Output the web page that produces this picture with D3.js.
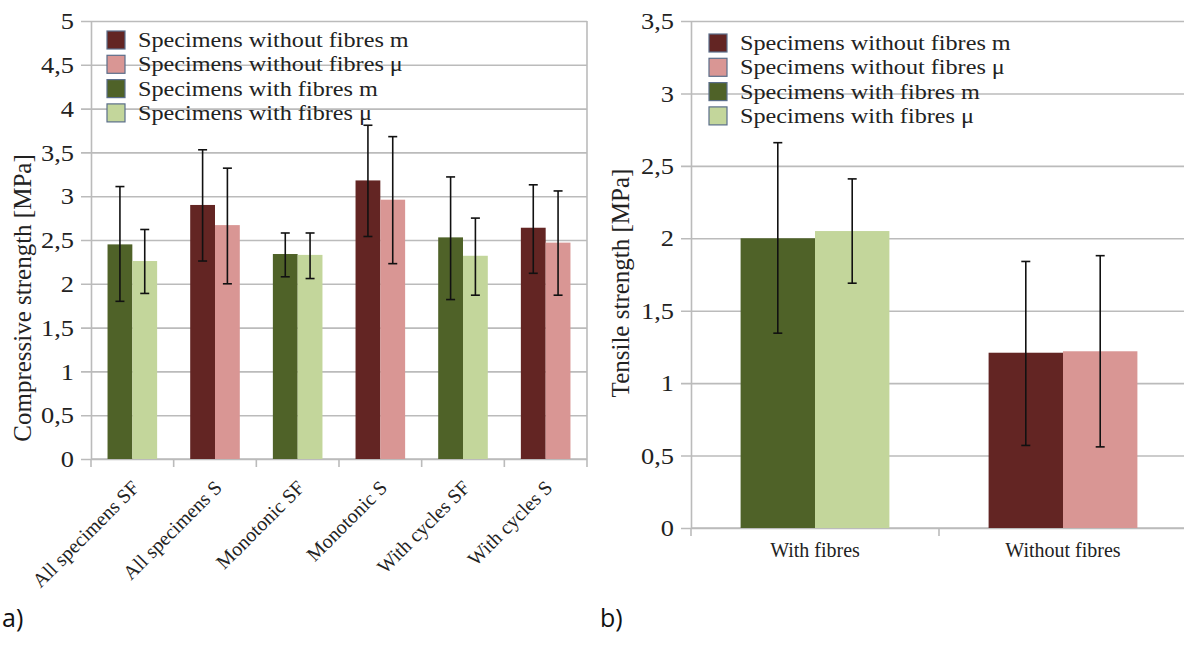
<!DOCTYPE html>
<html>
<head>
<meta charset="utf-8">
<script src="https://cdn.jsdelivr.net/npm/d3@7"></script>
<style>
  body { margin: 0; background: #fff; }
  svg { display: block; }
  svg text { font-family: "Liberation Serif", serif; }
  svg text.tag { font-family: "Open Sans", sans-serif; }
</style>
</head>
<body>
<div id="chart"></div>
<script>
// Panel a) compressive strength
const categoriesA = ["All specimens SF", "All specimens S", "Monotonic SF", "Monotonic S", "With cycles SF", "With cycles S"];
const fibresA = [true, false, true, false, true, false];
const mA = [2.45, 2.90, 2.34, 3.18, 2.53, 2.64];
const muA = [2.26, 2.67, 2.33, 2.96, 2.32, 2.47];
const mHighA = [3.11, 3.53, 2.58, 3.81, 3.22, 3.13];
const mLowA = [1.80, 2.26, 2.08, 2.54, 1.82, 2.12];
const muHighA = [2.62, 3.32, 2.58, 3.68, 2.75, 3.06];
const muLowA = [1.89, 2.00, 2.06, 2.23, 1.87, 1.87];
const ticksA = [0, 0.5, 1, 1.5, 2, 2.5, 3, 3.5, 4, 4.5, 5];

// Panel b) tensile strength
const categoriesB = ["With fibres", "Without fibres"];
const fibresB = [true, false];
const mB = [2.00, 1.21];
const muB = [2.05, 1.22];
const mHighB = [2.66, 1.84];
const mLowB = [1.345, 0.57];
const muHighB = [2.41, 1.88];
const muLowB = [1.69, 0.56];
const ticksB = [0, 0.5, 1, 1.5, 2, 2.5, 3, 3.5];

const legendLabels = ["Specimens without fibres m", "Specimens without fibres μ", "Specimens with fibres m", "Specimens with fibres μ"];
const legendColors = ["#632523", "#d99694", "#4f6228", "#c3d69b"];

const width = 1184, height = 646;
const serif = "Liberation Serif";
const gridColor = "#bbbbbb";

const svg = d3.select("#chart").append("svg")
    .attr("width", width)
    .attr("height", height);

function panel(opt) {
    const g = svg.append("g");

    const x = d3.scaleBand()
        .domain(opt.categories)
        .range([opt.left, opt.right]);

    const xSub = d3.scaleBand()
        .domain(["m", "mu"])
        .range([x.bandwidth() * 0.2, x.bandwidth() * 0.8]);

    const y = d3.scaleLinear()
        .domain([0, opt.max])
        .range([opt.bottom, opt.top]);

    // grid lines + y ticks
    const yAxis = g.append("g")
        .attr("transform", `translate(${opt.left},0)`)
        .call(d3.axisLeft(y)
            .tickValues(opt.ticks)
            .tickSizeInner(-(opt.gridRight - opt.left))
            .tickSizeOuter(0)
            .tickPadding(17)
            .tickFormat(d => String(d).replace(".", ",")))
        .attr("font-family", serif)
        .attr("font-size", 24);
    yAxis.select(".domain").attr("stroke", gridColor).attr("stroke-width", 1.6);
    yAxis.selectAll(".tick line")
        .attr("x1", -10)
        .attr("stroke", gridColor)
        .attr("stroke-width", 1.6);
    yAxis.selectAll(".tick text")
        .attr("fill", "#222")
        .attr("transform", "scale(1.1,1)")
        .attr("x", -17 / 1.1);

    if (opt.frameRight) {
        g.append("line")
            .attr("x1", opt.right).attr("x2", opt.right)
            .attr("y1", opt.top).attr("y2", opt.bottom)
            .attr("stroke", gridColor).attr("stroke-width", 1.6);
    }

    // x axis line with ticks at band edges
    g.append("line")
        .attr("x1", opt.left).attr("x2", opt.gridRight)
        .attr("y1", opt.bottom).attr("y2", opt.bottom)
        .attr("stroke", gridColor).attr("stroke-width", 1.6);

    const edges = opt.categories.map(c => x(c)).concat([opt.right]);
    g.selectAll(".xtick")
        .data(edges)
        .enter().append("line")
        .attr("x1", d => d).attr("x2", d => d)
        .attr("y1", opt.bottom).attr("y2", opt.bottom + 8)
        .attr("stroke", gridColor).attr("stroke-width", 1.6);

    // bars
    const rows = [];
    opt.categories.forEach((c, i) => {
        rows.push({ c, key: "m", v: opt.m[i], hi: opt.mHigh[i], lo: opt.mLow[i], color: opt.fibres[i] ? legendColors[2] : legendColors[0] });
        rows.push({ c, key: "mu", v: opt.mu[i], hi: opt.muHigh[i], lo: opt.muLow[i], color: opt.fibres[i] ? legendColors[3] : legendColors[1] });
    });

    g.selectAll(".bar")
        .data(rows)
        .enter().append("rect")
        .attr("x", d => x(d.c) + xSub(d.key))
        .attr("y", d => y(d.v))
        .attr("width", xSub.bandwidth())
        .attr("height", d => y(0) - y(d.v))
        .attr("fill", d => d.color);

    // error bars
    const cx = d => x(d.c) + xSub(d.key) + xSub.bandwidth() / 2;
    const err = g.selectAll(".err")
        .data(rows)
        .enter().append("g")
        .attr("stroke", "#111")
        .attr("stroke-width", 1.6);
    err.append("line")
        .attr("x1", cx).attr("x2", cx)
        .attr("y1", d => y(d.hi)).attr("y2", d => y(d.lo));
    err.append("line")
        .attr("x1", d => cx(d) - 4.5).attr("x2", d => cx(d) + 4.5)
        .attr("y1", d => y(d.hi)).attr("y2", d => y(d.hi));
    err.append("line")
        .attr("x1", d => cx(d) - 4.5).attr("x2", d => cx(d) + 4.5)
        .attr("y1", d => y(d.lo)).attr("y2", d => y(d.lo));

    // x labels
    const labels = g.selectAll(".xlabel")
        .data(opt.categories)
        .enter().append("text")
        .attr("fill", "#222")
        .attr("font-size", 20)
        .text(d => d);
    if (opt.rotate) {
        labels.attr("text-anchor", "end")
            .attr("transform", d => `translate(${x(d) + x.bandwidth() / 2 + 8},${opt.bottom + 30}) rotate(-45)`);
    } else {
        labels.attr("text-anchor", "middle")
            .attr("x", d => x(d) + x.bandwidth() / 2)
            .attr("y", opt.bottom + 29);
    }

    // y title
    g.append("text")
        .attr("transform", `translate(${opt.titleX},${opt.titleY}) rotate(-90)`)
        .attr("text-anchor", "middle")
        .attr("fill", "#222")
        .attr("font-size", 25)
        .text(opt.title);

    // legend
    const leg = g.selectAll(".leg")
        .data(legendLabels)
        .enter().append("g")
        .attr("transform", (d, i) => `translate(${opt.legX},${opt.legY + i * 24.3})`);
    leg.append("rect")
        .attr("width", 18).attr("height", 18)
        .attr("fill", (d, i) => legendColors[i])
        .attr("stroke", "#5b6e8a")
        .attr("stroke-width", 1.2);
    leg.append("text")
        .attr("transform", "translate(31,16) scale(1.1,1)")
        .attr("fill", "#222")
        .attr("font-size", 22)
        .text(d => d);

    // panel tag
    svg.append("text")
        .attr("class", "tag")
        .attr("x", opt.tagX)
        .attr("y", 627)
        .attr("fill", "#111")
        .attr("font-size", 25)
        .text(opt.tag);
}

panel({
    categories: categoriesA, fibres: fibresA,
    m: mA, mu: muA, mHigh: mHighA, mLow: mLowA, muHigh: muHighA, muLow: muLowA,
    ticks: ticksA, max: 5,
    left: 91, right: 587, gridRight: 587, top: 21, bottom: 459,
    frameRight: true, rotate: true,
    title: "Compressive strength [MPa]", titleX: 31, titleY: 298,
    legX: 107, legY: 31, tag: "a)", tagX: 2
});

panel({
    categories: categoriesB, fibres: fibresB,
    m: mB, mu: muB, mHigh: mHighB, mLow: mLowB, muHigh: muHighB, muLow: muLowB,
    ticks: ticksB, max: 3.5,
    left: 691, right: 1187, gridRight: 1190, top: 21, bottom: 528,
    frameRight: false, rotate: false,
    title: "Tensile strength [MPa]", titleX: 629, titleY: 283,
    legX: 709, legY: 34, tag: "b)", tagX: 600
});
</script>
</body>
</html>
